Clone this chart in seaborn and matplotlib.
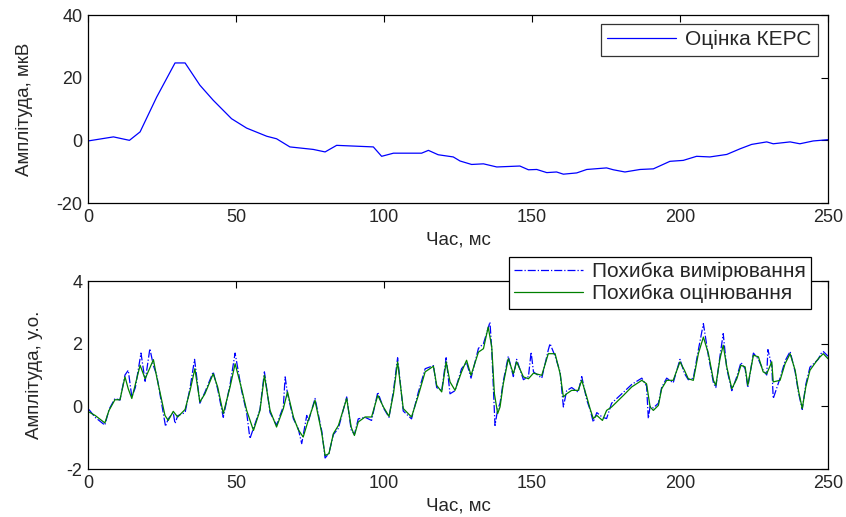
import matplotlib
matplotlib.use("Agg")
import matplotlib.pyplot as plt
import seaborn as sns
import pandas as pd
from matplotlib.lines import Line2D

# ---------------- data ----------------
top_x = [0, 8.6, 14, 17.6, 23.2, 29.4, 32.8, 37.8, 42.3, 48.5, 53.6, 60.4, 63.7, 68.2,
         76.1, 80.1, 84, 96.4, 99.2, 103.2, 112.7, 115, 118.3, 123.4, 125.7, 129.6,
         133.6, 138.1, 145.9, 148.8, 151.6, 155, 158.3, 160.6, 165.1, 168.5, 175.2,
         177.5, 181.4, 186.5, 191, 196.6, 201.1, 205.6, 210.1, 215.8, 220.3, 224.2,
         229.3, 231.5, 237.2, 240.5, 245, 250]
top_y = [-0.2, 1.1, 0.0, 2.7, 13.8, 24.7, 24.7, 17.6, 12.8, 6.9, 3.9, 1.3, 0.5, -2.1,
         -2.9, -3.7, -1.6, -2.1, -5.1, -4.1, -4.1, -3.2, -4.6, -5.3, -6.6, -7.7,
         -7.5, -8.5, -8.2, -9.4, -9.3, -10.3, -10.1, -10.8, -10.4, -9.3, -8.8,
         -9.4, -10.1, -9.3, -9.1, -6.7, -6.4, -5.1, -5.3, -4.5, -2.7, -1.3,
         -0.5, -1.1, -0.5, -1.1, -0.2, 0.2]

est_x = [0.3, 2.4, 5.7, 7.1, 9.1, 10.8, 12.5, 13.6, 14.8, 17.6, 19.3, 22.1, 23.2, 26.0,
         27.1, 28.8, 30.3, 32.8, 34.5, 36.1, 37.8, 39.5, 42.3, 43.8, 45.7, 48.0, 49.7,
         51.9, 53.6, 55.9, 58.1, 59.6, 61.5, 63.7, 66.0, 67.4, 69.4, 71.0, 72.7, 74.4,
         76.7, 79.0, 80.1, 81.4, 82.9, 84.6, 87.4, 88.9, 90.0, 91.3, 93.6, 95.8, 97.9,
         99.8, 101.7, 103.2, 104.6, 106.5, 109.3, 111.6, 113.9, 116.7, 117.8, 119.5,
         121.0, 122.3, 124.0, 126.2, 127.9, 129.4, 131.9, 133.6, 135.2, 136.4, 137.3,
         138.4, 139.2, 140.3, 142.0, 143.7, 144.8, 147.1, 148.8, 150.5, 153.3, 155.5,
         157.8, 159.5, 160.6, 161.7, 163.4, 165.6, 166.8, 168.5, 169.6, 170.7, 171.9,
         173.8, 175.2, 176.9, 180.9, 183.7, 187.1, 188.7, 189.9, 191.0, 192.7, 193.8,
         195.5, 197.7, 200.0, 201.5, 202.8, 204.5, 206.2, 207.9, 209.6, 211.3, 212.1,
         213.5, 214.6, 215.8, 217.5, 219.2, 220.6, 222.0, 222.9, 224.8, 226.5, 228.1,
         229.3, 231.0, 231.5, 233.8, 235.5, 237.2, 238.9, 240.0, 241.3, 242.5, 243.9,
         246.7, 248.4, 250.0]
est_y = [-0.18, -0.29, -0.53, -0.13, 0.21, 0.21, 0.94, 0.56, 0.25, 1.31, 0.88, 1.49, 0.94, -0.29,
         -0.45, -0.16, -0.34, -0.10, 0.51, 1.20, 0.14, 0.40, 1.04, 0.62, -0.23, 0.62, 1.36,
         0.56, -0.13, -0.77, -0.13, 0.99, -0.13, -0.66, -0.07, 0.46, -0.34, -0.74, -0.98, -0.45,
         0.19, -0.87, -1.57, -1.51, -0.87, -0.61, 0.25, -0.66, -0.93, -0.50, -0.34, -0.34, 0.35,
         -0.02, -0.32, 0.40, 1.42, -0.07, -0.34, 0.35, 1.10, 1.28, 0.67, 0.46,
         1.42, 0.78, 0.51, 1.10, 1.47, 0.99, 1.73, 1.84, 2.53, 1.90, 0.40,
         -0.23, -0.02, 0.72, 1.52, 1.04, 1.42, 0.94, 0.88, 1.06, 0.99, 1.68,
         1.68, 1.04, 0.30, 0.40, 0.51, 0.51, 0.83, 0.30, -0.07, -0.39, -0.29,
         -0.45, -0.13, -0.02, 0.35, 0.62, 0.83, 0.72, -0.02, -0.13, 0.03, 0.56,
         0.83, 0.83, 1.42, 1.15, 0.88, 0.83, 1.68, 2.21, 1.68, 0.83, 0.67,
         1.52, 1.95, 1.26, 0.56, 0.88, 1.31, 1.26, 0.67, 1.63, 1.58, 1.10,
         1.04, 1.42, 0.78, 0.83, 1.36, 1.68, 1.15, 0.51, -0.07, 0.62, 1.15,
         1.52, 1.68, 1.52]

meas_x = [0.3, 2.4, 5.7, 7.1, 9.1, 10.8, 12.5, 13.6, 14.8, 16.0, 17.9, 19.3, 20.9, 22.1, 23.2,
          26.2, 27.1, 28.8, 29.4, 30.3, 32.8, 34.5, 36.0, 37.8, 39.5, 42.3, 43.8, 45.7, 48.0,
          49.7, 51.9, 53.6, 54.7, 55.9, 58.1, 59.6, 61.5, 63.7, 66.0, 66.6, 67.4, 69.4, 71.0,
          72.2, 73.9, 74.4, 76.7, 79.0, 80.1, 81.4, 82.9, 84.6, 87.4, 88.9, 90.0, 91.3, 93.6,
          95.8, 97.9, 99.8, 101.7, 103.2, 104.6, 106.5, 109.3, 111.6, 113.9, 116.7, 117.8,
          119.5, 121.0, 122.3, 124.0, 126.2, 127.9, 129.4, 131.9, 133.6, 135.8, 136.4, 137.5,
          138.4, 139.2, 140.3, 142.0, 143.7, 144.8, 147.1, 148.8, 149.7, 150.5, 153.3, 155.5,
          156.1, 157.8, 159.5, 160.6, 161.7, 163.4, 165.6, 166.8, 168.5, 169.6, 170.7, 171.9,
          173.8, 175.2, 176.9, 180.9, 183.7, 187.1, 188.7, 189.3, 189.9, 191.0, 192.7, 193.8,
          195.5, 197.7, 200.0, 201.5, 202.8, 204.5, 206.2, 207.9, 209.6, 211.3, 212.1, 213.5,
          214.6, 215.8, 217.5, 219.2, 220.6, 222.0, 222.9, 224.8, 226.5, 228.1, 229.3, 229.7,
          231.0, 231.5, 233.8, 235.5, 237.2, 238.9, 240.0, 241.3, 242.5, 243.9, 246.7, 247.6,
          248.4, 250.0]
meas_y = [-0.1, -0.35, -0.6, -0.1, 0.25, 0.2, 1.0, 1.15, 0.3, 0.6, 1.7, 0.8, 1.84, 1.3, 1.0,
          -0.64, -0.4, -0.2, -0.55, -0.3, -0.2, 0.6, 1.5, 0.1, 0.45, 1.1, 0.55, -0.35, 0.7,
          1.7, 0.5, -0.2, -1.03, -0.7, -0.1, 1.1, -0.2, -0.6, 0.0, 0.94, 0.4, -0.4, -0.7,
          -1.19, -0.29, -0.5, 0.25, -0.8, -1.65, -1.5, -0.9, -0.7, 0.3, -0.75, -0.9, -0.4, -0.35,
          -0.45, 0.45, -0.05, -0.35, 0.5, 1.55, -0.15, -0.4, 0.45, 1.2, 1.3, 0.6,
          0.5, 1.55, 0.4, 0.5, 1.2, 1.4, 0.9, 1.85, 2.0, 2.69, 1.8, -0.61,
          -0.1, 0.1, 0.8, 1.6, 0.95, 1.5, 0.85, 0.95, 1.73, 1.1, 0.9, 1.8,
          2.0, 1.6, 1.1, -0.02, 0.5, 0.6, 0.45, 0.95, 0.2, -0.1, -0.5, -0.2,
          -0.35, -0.39, 0.1, 0.45, 0.7, 0.9, 0.65, -0.39, 0.0, -0.05, 0.1, 0.6,
          0.9, 0.75, 1.5, 1.05, 0.85, 0.9, 1.8, 2.64, 1.6, 0.75, 0.6, 1.6,
          2.32, 1.2, 0.5, 0.95, 1.4, 1.2, 0.6, 1.7, 1.5, 1.15, 1.0, 1.81,
          1.3, 0.25, 0.9, 1.45, 1.75, 1.1, 0.45, -0.1, 0.7, 1.25, 1.5, 1.68,
          1.75, 1.6]

x_ticks = [0, 50, 100, 150, 200, 250]
top_yticks = [-20, 0, 20, 40]
bot_yticks = [-2, 0, 2, 4]
x_label = "Час, мс"
top_ylabel = "Амплітуда, мкВ"
bot_ylabel = "Амплітуда, у.о."
top_legend = "Оцінка КЕРС"
meas_label = "Похибка вимірювання"
est_label = "Похибка оцінювання"

# ---------------- style ----------------
sns.set_style("white")
plt.rcParams["font.family"] = ["Liberation Sans Narrow", "Liberation Sans", "DejaVu Sans"]

fig = plt.figure(figsize=(8.46, 5.17), dpi=100)
W, H = 846, 517
ax1 = fig.add_axes([88 / W, 1 - 203 / H, 740 / W, 188 / H])
ax2 = fig.add_axes([88 / W, 1 - 469 / H, 740 / W, 188 / H])

df_top = pd.DataFrame({"t": top_x, "v": top_y})
df_est = pd.DataFrame({"t": est_x, "v": est_y})
df_meas = pd.DataFrame({"t": meas_x, "v": meas_y})

sns.lineplot(data=df_top, x="t", y="v", ax=ax1, color=(0, 0, 1), lw=0.9, estimator=None)
sns.lineplot(data=df_meas, x="t", y="v", ax=ax2, color=(0, 0, 1), lw=0.9,
             linestyle="-.", estimator=None)
sns.lineplot(data=df_est, x="t", y="v", ax=ax2, color=(0, 0.5, 0), lw=0.9, estimator=None)

tick_fs = 13
for ax, yt, yl in [(ax1, top_yticks, top_ylabel), (ax2, bot_yticks, bot_ylabel)]:
    ax.set_xlim(0, 250)
    ax.set_ylim(yt[0], yt[-1])
    ax.set_xticks(x_ticks)
    ax.set_yticks(yt)
    ax.set_xticklabels([str(v) for v in x_ticks], fontsize=tick_fs)
    ax.set_yticklabels([str(v) for v in yt], fontsize=tick_fs)
    ax.tick_params(direction="in", top=True, right=True, length=5, width=0.8,
                   color="black", pad=4)
    for s in ax.spines.values():
        s.set_visible(True)
        s.set_color("black")
        s.set_linewidth(0.9)
    ax.set_xlabel(x_label, fontsize=13.5, labelpad=4)
    ax.set_ylabel(yl, fontsize=13.5, labelpad=17)
    ax.grid(False)

leg_font = {"family": ["Liberation Sans", "DejaVu Sans"], "size": 15}
h1 = [Line2D([], [], color=(0, 0, 1), lw=0.9)]
l1 = ax1.legend(h1, [top_legend], loc="upper right", bbox_to_anchor=(0.986, 0.952),
                borderaxespad=0, prop=leg_font, frameon=True, fancybox=False,
                edgecolor="black", handlelength=3.3, handletextpad=0.45,
                borderpad=0.3)
l1.get_frame().set_linewidth(0.9)

h2 = [Line2D([], [], color=(0, 0, 1), lw=0.9, linestyle="-."),
      Line2D([], [], color=(0, 0.5, 0), lw=0.9)]
l2 = ax2.legend(h2, [meas_label, est_label], loc="upper right",
                bbox_to_anchor=(0.977, 1.128), borderaxespad=0, prop=leg_font,
                frameon=True, fancybox=False, edgecolor="black", handlelength=3.3,
                handletextpad=0.45, borderpad=0.25, labelspacing=0.15, framealpha=1)
l2.get_frame().set_linewidth(0.9)
l2.set_zorder(10)

fig.savefig("out.png", dpi=100)
